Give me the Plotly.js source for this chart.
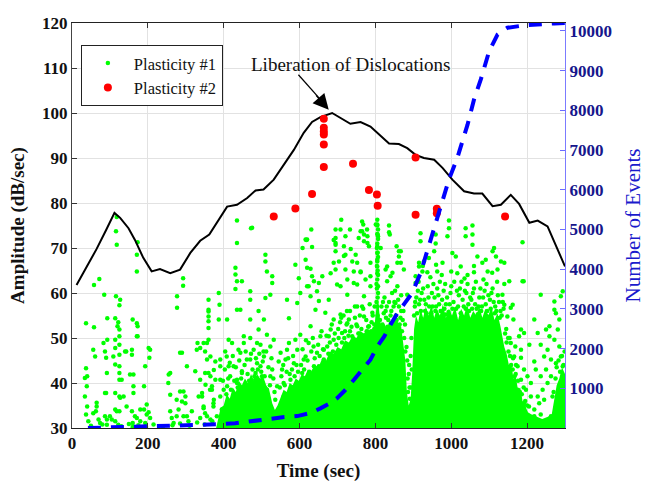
<!DOCTYPE html>
<html><head><meta charset="utf-8">
<script src="https://cdn.plot.ly/plotly-3.0.1.min.js"></script>
<style>html,body{margin:0;padding:0;background:#fff}#chart{width:646px;height:482px}</style>
</head><body><div id="chart"></div>
<script>
// ---- tick labels ----
const xTicks = [0, 200, 400, 600, 800, 1000, 1200];
const yTicks = [30, 40, 50, 60, 70, 80, 90, 100, 110, 120];
const y2Ticks = [1000, 2000, 3000, 4000, 5000, 6000, 7000, 8000, 9000, 10000];
const y2TickLabels = ['1000', '2000', '3000', '4000', '5000', '6000', '7000', '8000', '9000', '10000'];

// ---- black envelope line (amplitude) ----
const envelopeTime = [12,40,65,90,112,127,149,166,188,210,232,259,285,312,338,362,382,409,435,462,484,505,532,558,585,611,633,655,686,734,761,787,814,836,862,884,906,928,955,977,1003,1034,1060,1082,1109,1131,1157,1179,1206,1228,1254,1300];
const envelopeAmp  = [61.8,65.9,69.8,74,77.8,76.7,74.4,71.8,67.8,64.8,65.3,64.4,65.2,68.9,71.6,73,75.6,79.2,79.6,81.1,82.8,83,85.2,88.5,91.8,95.6,98,99.1,100,97.6,98,97,94.8,93.2,93.1,92.2,90.7,90,89.6,87.8,85.2,82.6,82.1,82.1,79.3,79.6,81.8,79.8,75.6,76.1,74.8,65.9];

// ---- cumulative number of events (right axis) ----
const eventsTime  = [42,100,150,200,250,300,350,391,430,461,500,523,560,594,630,655,680,699,720,743,765,787,805,823,840,858,878,897,919,937,955,975,994,1016,1030,1043,1060,1078,1100,1122,1148,1192,1272,1300];
const eventsCount = [0,15,25,35,45,60,80,95,120,160,210,245,275,300,380,495,620,750,950,1210,1460,1720,2050,2300,2600,2890,3150,3400,3900,4450,5080,5650,6260,6800,7200,7640,8270,8780,9490,9910,10080,10140,10190,10200];

// ---- Plasticity #2 (red) ----
const plast2Time = [532,589,633,664,664,664,664,664,664,741,783,804,806,906,906,962,962,1142];
const plast2Amp  = [77,78.8,82,88,93,95.2,95.9,96.7,98.7,88.7,82.9,81.9,79.4,90.1,77.4,78.7,77.7,77];

// ---- Plasticity #1 (green): outline of the solid part of the dense cloud ----
const denseCoreTime = [380,385,392,400,408,416,424,432,440,448,456,464,472,480,488,496,504,512,520,528,535,542,550,558,566,574,582,590,598,606,614,622,630,640,650,660,670,680,690,700,710,720,730,740,750,760,770,780,790,798,803,807,811,815,822,830,838,846,854,862,868,874,879,883,888,893,897,902,907,913,919,926,933,940,948,955,962,970,978,986,994,1002,1010,1018,1026,1034,1042,1050,1058,1066,1074,1082,1090,1098,1106,1114,1122,1130,1136,1140,1146,1152,1158,1164,1170,1176,1182,1188,1195,1202,1212,1225,1240,1255,1265,1272,1278,1285,1292,1300,1300,380];
const denseCoreAmp  = [30,32,34.5,35,37.5,36.5,39,38,40.5,39.5,41,40,42,40.5,42,41,41.5,39.5,38.5,35.5,34,35,37,38.5,38,40,39.5,41,40.5,42,41.5,43,42.5,44,43.5,45.5,45,47,46.5,48,47.5,49.5,49,50.5,50,51.5,51,52,51.5,53,57,59,55,52.5,53.5,52,54,53,54.5,53,52.5,49,45,38,35,36.5,42,52,55,53.5,56.5,54.5,57,55,57.5,54.5,56.5,55,57.5,54.5,56.5,55,57,54,56.5,55,57.5,54.5,56,55,57,54.5,56.5,55,57,54,55.5,52.5,50,48,46.5,44,44.5,41,41.5,38.5,39,36,35,33.5,33,32.5,32,32.5,33,36.5,39.5,41,43.5,42,30,30];

// ---- Plasticity #1 (green): individual events ----
const plast1Early = [[37,53.3],[37,43.3],[40,41.5],[39,39.3],[34,37],[40,34.8],[37,33],[43,31.5],[58,52.4],[61,45.9],[65,35.6],[63,33.7],[70,31.9],[74,31.1],[58,61.8],[72,63.1],[85,59.6],[93,54.4],[93,49.6],[90,45.6],[90,37.8],[92,31.9],[118,76.9],[116,73.7],[118,70.7],[173,71.3],[116,59.3],[127,58.5],[125,57.3],[114,54.4],[122,53.5],[120,52.6],[125,51.9],[125,50.4],[114,49.6],[125,48.5],[114,47.8],[125,46.3],[114,44.1],[125,43.7],[125,42.2],[125,40.7],[114,37.8],[125,37],[136,37],[114,34.1],[125,33.7],[100,32.6],[114,31.5],[122,30.7],[92,30.7],[105,31.9],[143,47],[158,46.3],[160,54.1],[171,53.3],[173,52.6],[173,50.4],[162,41.9],[162,39.3],[171,68.5],[171,64.8],[144,34.8],[158,33.7],[166,32.6],[180,34.1],[180,31.5],[160,31.1],[193,43.7],[202,47.8],[204,45.6],[190,39.3],[197,35.2],[190,34.1],[202,33.5],[206,32.2],[193,31.1],[255,41.9],[259,37.4],[259,33.7],[263,32.2],[268,31.1],[277,59.3],[277,56.7],[293,63.3],[293,61.6],[290,46.7],[285,38.1],[290,35.9],[281,34.1],[299,37],[303,43.7],[294,32.6],[307,31.5],[316,33.7],[325,42.6],[331,48.9],[338,47.8],[343,37],[347,34.4],[352,39.6],[356,32.6],[360,58.5],[360,55.9],[360,53.7],[365,45.9],[360,52.2],[360,49.6],[374,42.9],[378,44.8],[365,41.5],[369,38.5],[374,36.3],[382,32.6],[387,60],[389,57.4],[387,54.1],[391,43.7],[391,40.7],[34,41.1],[56,47.4],[56,33.3],[65,34.8],[83,48.9],[87,47],[92,42.2],[87,37.8],[87,32.6],[109,45.9],[118,33.7],[127,36.7],[131,40.7],[140,47],[153,41.9],[158,47.4],[162,37.8],[171,32.2],[197,33],[206,47.4],[171,50.4],[259,42.2],[254,40],[285,46.7],[294,38.1],[276,36.3],[299,35.5],[276,32.6],[303,32.6],[329,47.4],[334,37],[356,48.9],[351,42.2],[364,38.5],[347,34.8],[373,35.5],[360,56.3],[360,54.8],[347,48.9],[351,47],[356,45.2],[338,40.7],[360,42.2],[343,37.8],[369,39.3],[378,40.7],[351,33.3],[365,31.9],[373,34.8],[338,32.2],[50,30.5],[80,30.8],[130,30.4],[150,30.9],[175,30.6],[195,30.3],[215,30.8],[240,30.4],[265,30.6],[285,31],[310,30.5],[330,31.2],[350,30.8],[370,31.5],[160,30.2]];

const plast1Mid = [[435,76.1],[435,71.1],[472,74.4],[631,74.1],[618,71.8],[608,70],[633,70.2],[695,74.1],[710,76.3],[733,74.1],[765,75.9],[768,75.2],[778,74.1],[805,76.3],[805,75.2],[807,74.1],[807,72.6],[836,75],[721,72.6],[690,71.8],[756,72.2],[814,70],[856,70.4],[616,71.9],[616,67.4],[629,65.4],[638,62.6],[660,63.7],[682,64.4],[690,66.7],[695,71.1],[695,72.2],[708,74.1],[717,70.4],[721,68.5],[735,69.8],[739,67],[743,64.8],[761,64.6],[765,73.7],[770,73],[779,72.6],[783,70.4],[787,66.7],[805,73.1],[805,70.4],[805,68.9],[805,67.4],[805,65.9],[805,64.4],[805,63],[807,61.5],[787,63.7],[827,65.2],[838,73],[840,63.7],[858,66.7],[867,69.3],[862,68.1],[624,61.5],[699,61.9],[726,63],[752,61.9],[831,62.6],[475,74.5],[431,65.6],[431,64.1],[435,62.6],[448,62.6],[431,60.9],[510,68.5],[510,67],[514,64.8],[528,63.7],[528,62.2],[523,59.6],[510,58.9],[470,60.4],[470,58.5],[435,56.3],[444,56.3],[409,54.1],[470,54.1],[492,56],[506,54.1],[567,58.5],[572,54.4],[589,66.3],[598,63.3],[602,60],[594,57.8],[620,71.9],[620,65.6],[633,63.7],[620,61.5],[629,59.3],[651,62.2],[646,60.4],[651,58.2],[642,56.3],[668,55.6],[677,58.5],[695,70.7],[695,69.3],[704,67],[695,65.2],[717,68.2],[721,65.2],[708,61.5],[726,59.6],[761,73.7],[770,71.5],[779,71.1],[801,75.2],[748,68.5],[752,66.7],[761,64.8],[774,63],[787,61.5],[743,62.2],[770,59.3],[752,57],[708,55.2],[690,54.1],[726,53.3],[831,65.9],[836,73.5],[845,64.5],[858,61.5],[862,69.3],[867,66.7],[875,65.2],[884,59.6],[853,57.8],[827,56],[814,51.9],[391,45.2],[404,47],[413,49.6],[422,48.9],[426,43.7],[444,46.7],[453,48.9],[461,45.2],[470,50],[479,47.4],[488,44.4],[492,51.9],[497,48.5],[506,45.9],[514,50.7],[523,48.1],[528,43],[501,41.5],[484,42.2],[448,42.2],[435,40.7],[417,41.5],[409,39.3],[461,39.3],[550,46.7],[554,43],[563,45.2],[572,48.9],[576,40.7],[585,44.4],[594,47.4],[602,50.7],[607,42.2],[616,45.9],[624,48.9],[629,52.6],[638,43.7],[646,46.7],[655,50.4],[664,45.2],[673,48.1],[682,51.9],[690,49.6],[699,46.7],[712,51.1],[730,54.1],[739,50.4],[752,52.6],[770,54.8],[783,52.6],[792,55.6],[541,39.3],[558,37],[536,36.3],[580,37.8],[391,37],[426,36.3],[400,33.7],[395,34.1],[400,38.5],[408,45.9],[413,43.7],[435,40],[439,47.4],[448,42.6],[453,50.4],[461,37.8],[470,45.2],[483,40.7],[488,48.9],[497,43.7],[505,47],[514,38.5],[523,41.5],[532,49.6],[545,44.8],[558,40],[567,47.4],[580,43],[589,49.6],[602,39.3],[611,45.2],[624,41.5],[637,48.1],[651,43.7],[664,47.4],[677,50.4],[818,53],[822,55.5],[826,52],[830,57],[834,54],[838,51.5],[842,56],[846,53.5],[850,58],[854,55],[858,52.5],[862,57],[866,54.5],[870,51.5],[874,56],[878,53],[882,48],[884,45],[820,58],[844,60],[868,59.5],[888,42],[890,39],[893,46],[895,50],[886,38],[891,36.5],[887,33],[702,52],[710,54.5],[718,50],[725,56],[733,51.5],[746,54.5],[758,51],[765,57],[777,51.5],[790,53.5],[798,57],[797,52],[804,53],[806,55],[805,57],[806,59],[804,61],[806,65],[805,67],[806,69],[805,71],[806,73]];

const plast1Late = [[919,73.3],[959,73],[994,76.1],[994,74.4],[1038,74.4],[1056,75],[1056,73],[1113,70],[1188,71.3],[919,71.5],[915,66.7],[928,67],[924,64.8],[941,67.8],[955,69.3],[959,71],[990,72.6],[1003,68.9],[1012,68.1],[1038,72.6],[1056,70.7],[1069,68.1],[1082,66.7],[1091,67.4],[1109,69.3],[1118,68.1],[1131,67],[1140,66.7],[1153,62.6],[1191,62.6],[977,66.7],[963,64.8],[937,64.6],[906,63.7],[1025,65.9],[1016,64.4],[1043,64],[1060,64.6],[1096,64.8],[1122,65.2],[915,65.9],[906,62.2],[905,58],[912,60.5],[920,56],[926,61],[933,57.5],[940,59],[947,55.5],[953,62],[960,57],[966,59.5],[972,56],[980,60.5],[986,57.5],[993,55.8],[1000,61.5],[1006,58],[1013,56.5],[1020,59.5],[1027,62.5],[1033,57],[1040,60],[1047,56],[1053,58.5],[1060,61],[1067,56.5],[1074,59],[1081,57],[1088,60.5],[1095,56],[1102,58.5],[1109,61],[1116,57],[1123,59.5],[1130,56],[1136,58],[1128,54.5],[1115,55.5],[1095,54.8],[1070,55.3],[1045,57.5],[1025,55.5],[1010,54.5],[985,55.2],[958,56],[935,55.5],[915,57.5],[945,63.5],[975,64],[1035,63.2],[1085,63],[1108,64.5],[1000,64.8],[1060,66],[1140,62],[925,66],[960,66.3],[1188,62.6],[1236,59.6],[1219,54.1],[1135,59.6],[1140,57.4],[1162,57.4],[1157,56.7],[1148,54.8],[1164,54.1],[1184,51.9],[1179,50.4],[1192,51.1],[1157,48.9],[1169,48.1],[1184,47.4],[1166,45.9],[1184,45.6],[1175,43.7],[1162,43],[1192,43],[1201,41.5],[1184,40.7],[1162,40],[1175,38.5],[1197,38.5],[1210,37],[1192,35.5],[1219,34.1],[1232,35.5],[1245,36.3],[1241,38.5],[1254,40],[1263,41.5],[1250,43],[1263,45.2],[1254,47.4],[1245,45.9],[1236,48.5],[1250,51.9],[1259,52.6],[1259,50.4],[1272,49.6],[1281,51.9],[1285,54.1],[1276,55.5],[1272,58.1],[1289,59.3],[1294,60.4],[1272,56.3],[1285,48.1],[1289,45.9],[1294,43.7],[1276,44.4],[1219,32.6],[1236,33],[1263,32.6],[1201,32.2],[1223,31.5],[1250,31.5],[1272,31.9],[1228,37],[1267,37],[1210,40],[1223,43],[1236,41.5],[1219,44.8],[1206,48.5],[1228,51.1],[1150,50],[1145,52],[1155,46],[1170,42],[1180,36],[1195,33.5],[1205,34.8],[1215,30.8],[1240,30.6],[1260,31],[1185,31],[1290,40],[1298,38]];

// events packed along the upper edge of the dense cloud
const plast1Fringe = [[398,40.5],[403,43],[407,37.5],[412,41],[416,44.5],[419,38.5],[424,46],[428,40.5],[432,43.5],[437,39],[441,45],[446,41],[450,38.8],[455,44],[458,47],[463,42],[467,40.5],[472,46.5],[476,43],[481,41.5],[485,45.5],[490,43],[494,46.5],[499,42.5],[503,44.8],[508,41.5],[512,47],[518,43.5],[522,39.5],[526,45.5],[531,41],[534,38],[548,39],[552,41.5],[557,44],[561,39.5],[566,42.5],[570,45.5],[574,42],[578,39],[583,46],[587,41.5],[592,44],[596,42.5],[604,44],[608,47.5],[612,43],[617,49.5],[621,45],[626,42.5],[631,47],[635,50],[640,45.5],[644,43],[649,48.5],[653,46],[658,51.5],[662,47.5],[667,44.5],[671,50.5],[676,46.5],[680,49],[685,53],[688,47],[693,51],[697,48.5],[703,50],[707,53.5],[712,49],[716,55],[720,51.5],[724,53],[729,50.5],[733,56],[737,52.5],[742,49.5],[746,57],[750,53],[755,51],[759,55],[763,52],[768,56.5],[772,50.5],[776,54],[781,52.5],[785,57.5],[789,51.5],[793,55],[797,53],[803,58],[807,60],[803,62],[807,64],[804,66],[807,68],[804,70],[807,72],[805,75],[812,54],[816,57],[820,52.5],[824,59],[828,54.5],[832,52.5],[836,58],[840,55],[844,53],[848,57],[852,60.5],[856,54],[860,58.5],[864,53],[868,56],[872,54],[876,50],[879,47],[885,41],[889,44],[894,39],[896,43],[902,55],[904,57],[908,59],[910,55.5],[914,62.5],[918,58.5],[922,60],[929,58.5],[931,56],[938,61.5],[942,57],[949,60],[951,57],[956,59],[963,61],[968,57.5],[970,62.5],[976,58.5],[982,56.5],[984,62],[989,59],[996,57.5],[998,60],[1003,56.5],[1008,62.5],[1015,60.5],[1018,57],[1023,61],[1030,58.5],[1036,60.5],[1038,56.5],[1043,62],[1050,59],[1055,56.5],[1057,60],[1063,57.5],[1065,62.5],[1072,57],[1077,61],[1079,56],[1084,59],[1091,57.5],[1093,62],[1098,59.5],[1104,56.5],[1106,60],[1112,58],[1119,56],[1121,62.5],[1126,58],[1133,55],[1138,56.5],[1142,51],[1146,49],[1151,47],[1154,50],[1158,44],[1163,45.5],[1167,41.5],[1171,44],[1176,40.5],[1181,38],[1186,37.5],[1191,39],[1195,36],[1200,35],[1270,38],[1275,41],[1278,43.5],[1283,45],[1287,42.5],[1292,46],[1296,44],[1299,47]];

const plast1 = plast1Early.concat(plast1Mid, plast1Late, plast1Fringe);

const serif = 'Liberation Serif, Times New Roman, serif';
const GREEN = '#00ff00';

const traces = [
  { x: denseCoreTime, y: denseCoreAmp, type: 'scatter', mode: 'lines', fill: 'toself',
    fillcolor: GREEN, line: { width: 0, color: GREEN }, showlegend: false, hoverinfo: 'skip' },
  { x: plast1.map(p => p[0]), y: plast1.map(p => p[1]), type: 'scatter', mode: 'markers',
    name: 'Plasticity #1', marker: { color: GREEN, size: 4.5 } },
  { x: envelopeTime, y: envelopeAmp, type: 'scatter', mode: 'lines', showlegend: false,
    line: { color: '#000000', width: 2 } },
  { x: plast2Time, y: plast2Amp, type: 'scatter', mode: 'markers', name: 'Plasticity #2',
    marker: { color: '#ff0000', size: 8 } },
  { x: eventsTime, y: eventsCount, yaxis: 'y2', type: 'scatter', mode: 'lines', showlegend: false,
    line: { color: '#0000ff', width: 4, dash: '13px,10px' } }
];

const layout = {
  width: 646, height: 482,
  margin: { l: 72, r: 81, t: 23, b: 54 },
  paper_bgcolor: '#ffffff', plot_bgcolor: '#ffffff',
  font: { family: serif, size: 16, color: '#111' },
  showlegend: true,
  legend: { x: 0.018, y: 0.946, xanchor: 'left', yanchor: 'top', bgcolor: '#ffffff',
    bordercolor: '#222', borderwidth: 1, font: { family: serif, size: 16.5, color: '#111' },
    itemwidth: 42 },
  xaxis: { range: [0, 1300], tickvals: xTicks, ticks: 'inside', ticklen: 5, tickcolor: '#333',
    showline: true, linecolor: '#222', linewidth: 1, mirror: 'ticks', showgrid: true,
    gridcolor: '#e2e2e2', zeroline: false,
    tickfont: { family: serif, size: 17, color: '#111', weight: 'bold' },
    title: { text: 'Time (sec)', font: { family: serif, size: 19, color: '#111', weight: 'bold' } } },
  yaxis: { range: [30, 120], tickvals: yTicks, ticks: 'inside', ticklen: 5, tickcolor: '#333',
    showline: true, linecolor: '#444', linewidth: 1, showgrid: true, gridcolor: '#e2e2e2', zeroline: false,
    tickfont: { family: serif, size: 17, color: '#111', weight: 'bold' },
    title: { text: 'Amplitude (dB/sec)', font: { family: serif, size: 19, color: '#111', weight: 'bold' } } },
  yaxis2: { overlaying: 'y', side: 'right', range: [0, 10200], tickvals: y2Ticks, ticktext: y2TickLabels,
    ticks: 'inside', ticklen: 5, tickcolor: '#6b6bff', showline: true, linecolor: '#7b7bff', linewidth: 1,
    showgrid: false, zeroline: false,
    tickfont: { family: serif, size: 17, color: '#16168c', weight: 'bold' },
    title: { text: 'Number of Events', standoff: 14, font: { family: serif, size: 21, color: '#1a1acc' } } },
  shapes: [
    { type: 'line', xref: 'x', yref: 'y', x0: 597, y0: 108.5, x1: 670, y1: 101.6, layer: 'above',
      line: { color: '#000000', width: 1.2 } }
  ],
  annotations: [
    { x: 734, y: 110.7, xref: 'x', yref: 'y', text: 'Liberation of Dislocations', showarrow: false,
      font: { family: serif, size: 19, color: '#111' } },
    { x: 677, y: 100.7, xref: 'x', yref: 'y', text: '', showarrow: true, ax: -14, ay: -16,
      standoff: 0, arrowhead: 2, arrowsize: 2.6, arrowwidth: 1.2, arrowcolor: '#000' }
  ]
};

Plotly.newPlot('chart', traces, layout, { staticPlot: true, displayModeBar: false });
</script>
</body></html>
